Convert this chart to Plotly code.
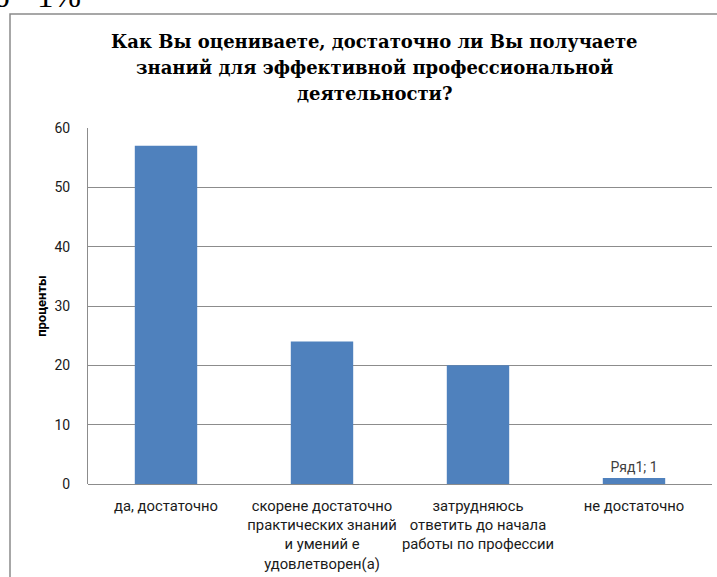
import plotly.graph_objects as go

categories = [
    "да, достаточно",
    "скорене достаточно<br>практических знаний<br>и умений е<br>удовлетворен(а)",
    "затрудняюсь<br>ответить до начала<br>работы по профессии",
    "не достаточно",
]
values = [57, 24, 20, 1]
series_name = "Ряд1"
show_label = [False, False, False, True]
y_ticks = [0, 10, 20, 30, 40, 50, 60]

title_lines = [
    "Как Вы оцениваете, достаточно ли Вы получаете",
    "знаний для эффективной профессиональной",
    "деятельности?",
]
axis_title = "проценты"
fragment_text = "6 - 1%"

labels = [f"{series_name}; {v}" if s else "" for v, s in zip(values, show_label)]

fig = go.Figure(go.Bar(
    x=categories, y=values, name=series_name,
    marker=dict(color="#4F81BD", line=dict(width=0)),
    text=labels, textposition="outside",
    textfont=dict(family="Roboto", size=14, color="#404040"),
    cliponaxis=False,
))

W, H = 717, 577
L, R, T, B = 88, 5, 128, 93
pw, ph = W - L - R, H - T - B


def px(x):
    return (x - L) / pw


def py(y):
    return (H - B - y) / ph


serif = "DejaVu Serif, Liberation Serif, serif"
title_centers = [42, 67.5, 93]
annotations = [
    dict(text=f"<b>{line}</b>", xref="paper", yref="paper",
         x=px(374), y=py(cy), xanchor="center", yanchor="middle",
         showarrow=False, align="center",
         font=dict(family=serif, size=18, color="#000000"))
    for line, cy in zip(title_lines, title_centers)
]
annotations.append(dict(
    text=fragment_text, xref="paper", yref="paper",
    x=px(-9), y=py(16), xanchor="left", yanchor="bottom",
    showarrow=False,
    font=dict(family="Liberation Serif", size=33, color="#000000")))

fig.update_layout(
    width=W, height=H,
    margin=dict(l=L, r=R, t=T, b=B, autoexpand=False),
    paper_bgcolor="white", plot_bgcolor="white",
    showlegend=False,
    bargap=0.6,
    font=dict(family="Roboto", size=13, color="#404040"),
    xaxis=dict(
        showgrid=False, showline=False, zeroline=False,
        tickfont=dict(family="Roboto", size=14.8, color="#1a1a1a"),
        ticks="", ticklabelstandoff=11,
    ),
    yaxis=dict(
        range=[0, 60], tickvals=y_ticks,
        showgrid=True, gridcolor="#8c8c8c", gridwidth=1,
        zeroline=True, zerolinecolor="#8c8c8c", zerolinewidth=1,
        showline=True, linecolor="#8c8c8c", linewidth=1,
        ticks="", ticklabelstandoff=14,
        tickfont=dict(family="Roboto", size=14, color="#1a1a1a"),
        title=dict(text=f"<b>{axis_title}</b>", standoff=4,
                   font=dict(family="Roboto", size=13, color="#000000")),
    ),
    shapes=[dict(
        type="rect", xref="paper", yref="paper",
        x0=px(10), x1=px(724), y0=py(584), y1=py(14),
        line=dict(color="#8a8a8a", width=1.5), fillcolor="rgba(0,0,0,0)",
        layer="below",
    )],
    annotations=annotations,
)

fig.write_html(
    "out.html",
    config={"displayModeBar": False},
    post_script="document.body.style.margin='0px';document.body.style.overflow='hidden';",
)
